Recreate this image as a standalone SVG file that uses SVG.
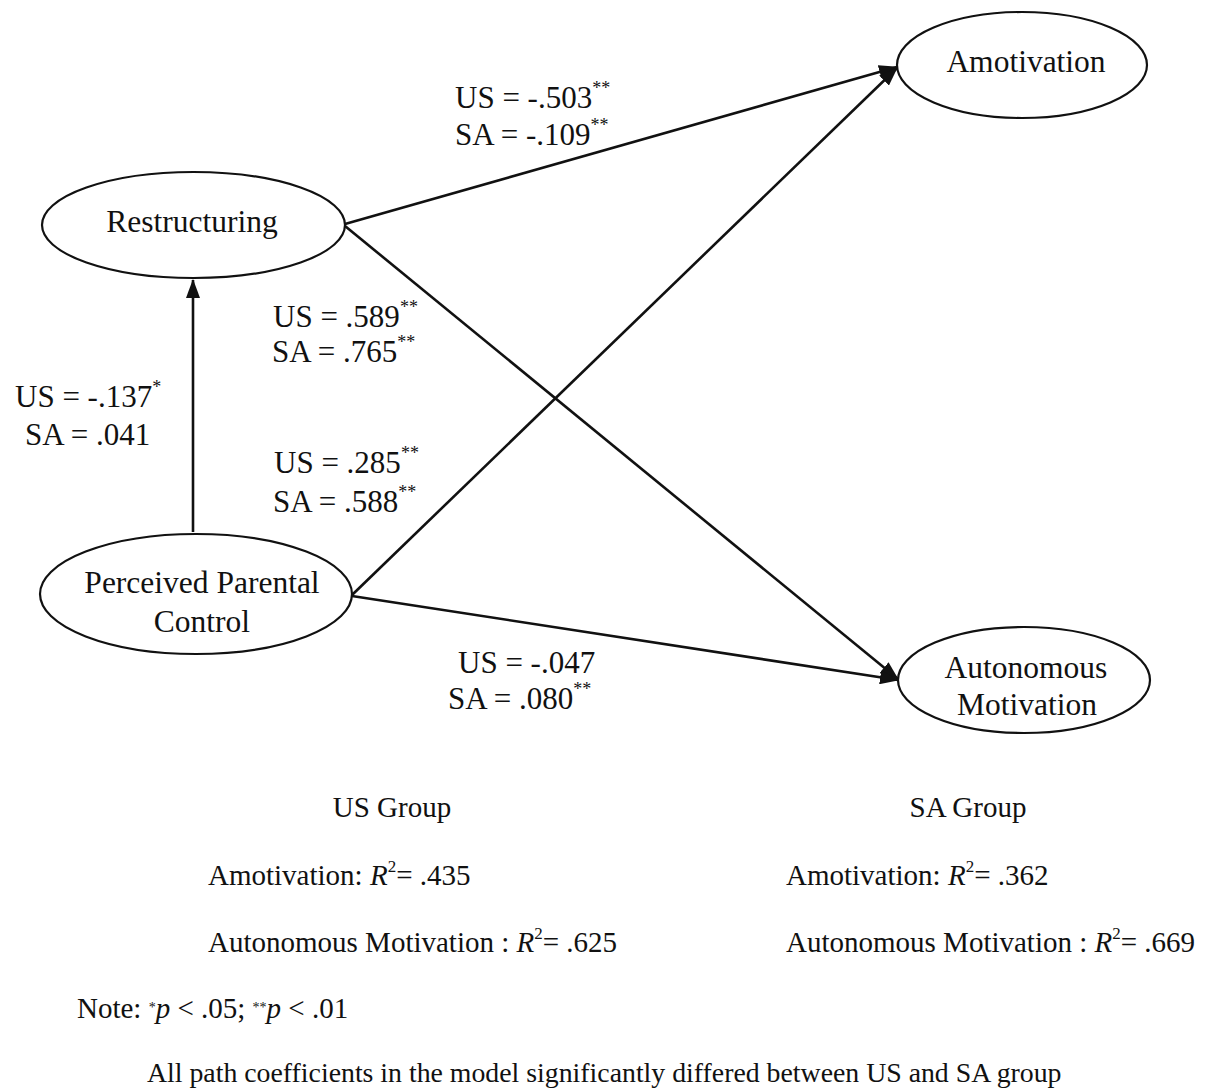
<svg xmlns="http://www.w3.org/2000/svg" width="1211" height="1089" viewBox="0 0 1211 1089">
<style>
  text { font-family: "Liberation Serif", "Times New Roman", serif; fill: #111; }
  .node ellipse { fill: #fff; stroke: #111; stroke-width: 2.2; }
  .nt { font-size: 31.5px; text-anchor: middle; }
  .lb { font-size: 31px; }
  .sup { font-size: 18px; }
  .ft { font-size: 29px; }
  .edge { stroke: #111; stroke-width: 2.6; fill: none; marker-end: url(#arr); }
</style>
<defs>
  <marker id="arr" markerUnits="userSpaceOnUse" markerWidth="20" markerHeight="14" refX="18" refY="7" orient="auto">
    <path d="M0,0 L19,7 L0,14 Z" fill="#111"/>
  </marker>
</defs>
<rect width="1211" height="1089" fill="#fff"/>

<g id="connectors">
  <line class="edge" x1="193" y1="532" x2="193" y2="280"/>
  <line class="edge" x1="345" y1="224" x2="897" y2="67"/>
  <line class="edge" x1="345" y1="226" x2="898" y2="679"/>
  <line class="edge" x1="352" y1="595" x2="897" y2="68"/>
  <line class="edge" x1="352" y1="596" x2="898" y2="680"/>
</g>

<g id="n-restructuring" class="node">
  <ellipse cx="193.5" cy="225" rx="151.5" ry="53"/>
  <text class="nt" x="192" y="232">Restructuring</text>
</g>
<g id="n-amotivation" class="node">
  <ellipse cx="1022" cy="65" rx="125" ry="53"/>
  <text class="nt" x="1026" y="72">Amotivation</text>
</g>
<g id="n-ppc" class="node">
  <ellipse cx="196" cy="594" rx="156" ry="60"/>
  <text class="nt" x="202" y="593">Perceived Parental</text>
  <text class="nt" x="202" y="632">Control</text>
</g>
<g id="n-autonomous" class="node">
  <ellipse cx="1024" cy="680" rx="126" ry="53"/>
  <text class="nt" x="1026" y="678">Autonomous</text>
  <text class="nt" x="1027" y="715">Motivation</text>
</g>

<g id="edge-labels">
  <text class="lb" x="455" y="108">US = -.503<tspan class="sup" dy="-14">**</tspan></text>
  <text class="lb" x="455" y="145">SA = -.109<tspan class="sup" dy="-14">**</tspan></text>
  <text class="lb" x="273" y="327">US = .589<tspan class="sup" dy="-14">**</tspan></text>
  <text class="lb" x="272" y="362">SA = .765<tspan class="sup" dy="-14">**</tspan></text>
  <text class="lb" x="15" y="407">US = -.137<tspan class="sup" dy="-14">*</tspan></text>
  <text class="lb" x="25" y="445">SA = .041</text>
  <text class="lb" x="274" y="473">US = .285<tspan class="sup" dy="-14">**</tspan></text>
  <text class="lb" x="273" y="512">SA = .588<tspan class="sup" dy="-14">**</tspan></text>
  <text class="lb" x="458" y="673">US = -.047</text>
  <text class="lb" x="448" y="709">SA = .080<tspan class="sup" dy="-14">**</tspan></text>
</g>

<g id="footer">
  <text class="ft" x="392" y="817" text-anchor="middle">US Group</text>
  <text class="ft" x="968" y="817" text-anchor="middle">SA Group</text>
  <text class="ft" x="208" y="885">Amotivation: <tspan font-style="italic">R</tspan><tspan font-size="17" dy="-13">2</tspan><tspan dy="13">= .435</tspan></text>
  <text class="ft" x="786" y="885">Amotivation: <tspan font-style="italic">R</tspan><tspan font-size="17" dy="-13">2</tspan><tspan dy="13">= .362</tspan></text>
  <text class="ft" x="208" y="952">Autonomous Motivation : <tspan font-style="italic">R</tspan><tspan font-size="17" dy="-13">2</tspan><tspan dy="13">= .625</tspan></text>
  <text class="ft" x="786" y="952">Autonomous Motivation : <tspan font-style="italic">R</tspan><tspan font-size="17" dy="-13">2</tspan><tspan dy="13">= .669</tspan></text>
  <text class="ft" x="77" y="1018" font-size="28">Note: <tspan font-size="14" dy="-6">*</tspan><tspan dy="6" font-style="italic">p</tspan> &lt; .05; <tspan font-size="14" dy="-6">**</tspan><tspan dy="6" font-style="italic">p</tspan> &lt; .01</text>
  <text class="ft" x="147" y="1082" style="font-size:27.8px">All path coefficients in the model significantly differed between US and SA group</text>
</g>
</svg>
